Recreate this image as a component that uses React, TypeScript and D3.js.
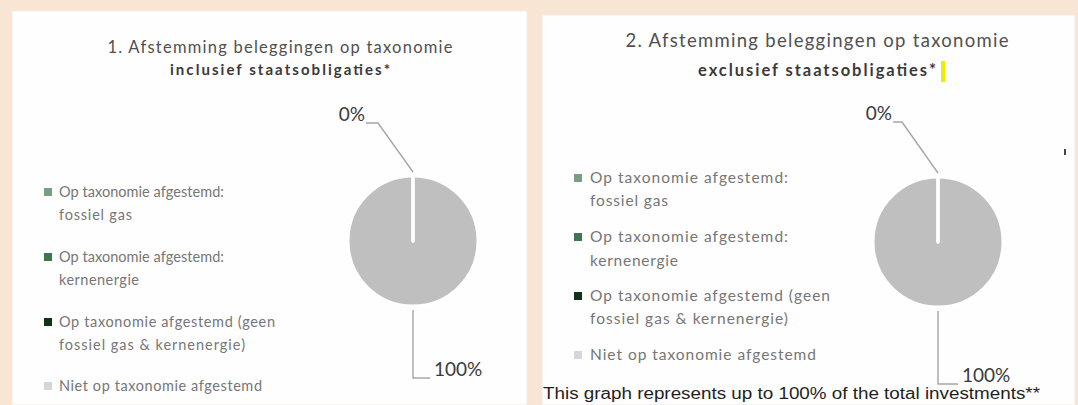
import React from "react";
import * as d3 from "d3";

// ---- data ----
const legendLines: string[][] = [
  ["Op taxonomie afgestemd:", "fossiel gas"],
  ["Op taxonomie afgestemd:", "kernenergie"],
  ["Op taxonomie afgestemd (geen", "fossiel gas & kernenergie)"],
  ["Niet op taxonomie afgestemd"],
];
const legendColors = ["#7a9c80", "#3f7650", "#0f3319", "#d6d6d6"];
const sliceColors = ["#7a9c80", "#3f7650", "#0f3319", "#bfbfbf"];
const valuesIncl = [0, 0, 0, 100];
const valuesExcl = [0, 0, 0, 100];
const titleIncl = ["1. Afstemming beleggingen op taxonomie", "inclusief staatsobligaties*"];
const titleExcl = ["2. Afstemming beleggingen op taxonomie", "exclusief staatsobligaties*"];
const footnote = "This graph represents up to 100% of the total investments**";

const W = 1078;
const H = 405;
const FONT = "Lato, 'Open Sans', sans-serif";

type Layout = {
  panel: { x: number; y: number; w: number; h: number };
  cx: number;
  cy: number;
  r: number;
  title: { x: number; y1: number; y2: number; size1: number; size2: number; w1: number; w2: number };
  legend: { sqX: number; textX: number; size: number; sq: number; ys: number[][]; widths: number[][] };
  labelSize: number;
  top: { ex: number; ey: number; endX: number };
  bottom: { ey: number; endX: number };
};

const layoutIncl: Layout = {
  panel: { x: 12, y: 11, w: 515, h: 394 },
  cx: 413,
  cy: 241,
  r: 65,
  title: { x: 280, y1: 53, y2: 75, size1: 16.5, size2: 15, w1: 345, w2: 220 },
  legend: {
    sqX: 44,
    textX: 59,
    size: 14.5,
    sq: 8,
    ys: [[197, 220], [262, 285], [327, 350], [391]],
    widths: [[165, 73], [165, 80], [216, 186], [203]],
  },
  labelSize: 19,
  top: { ex: -35, ey: -118, endX: -47 },
  bottom: { ey: 137, endX: 17 },
};

const layoutExcl: Layout = {
  panel: { x: 542, y: 15, w: 533, h: 390 },
  cx: 938,
  cy: 242,
  r: 65,
  title: { x: 817, y1: 47, y2: 76, size1: 18.5, size2: 16.5, w1: 383, w2: 238 },
  legend: {
    sqX: 574,
    textX: 590,
    size: 15.5,
    sq: 8,
    ys: [[183, 206], [242, 266], [301, 324], [360]],
    widths: [[198, 78], [198, 88], [240, 198], [226]],
  },
  labelSize: 19,
  top: { ex: -36, ey: -120, endX: -45 },
  bottom: { ey: 142, endX: 20 },
};

function PieChart({ values, title, L }: { values: number[]; title: string[]; L: Layout }) {
  const pie = d3.pie<number>().sort(null).value((d) => d);
  const arcs = pie(values);
  const arc = d3.arc<d3.PieArcDatum<number>>().innerRadius(0).outerRadius(L.r);
  const total = d3.sum(values);
  const fmt = d3.format(".0%");

  // one label per distinct position
  const seen = new Set<string>();
  const labels = arcs.filter((a) => {
    const mid = (a.startAngle + a.endAngle) / 2;
    const key = mid.toFixed(3);
    if (seen.has(key)) return false;
    seen.add(key);
    return true;
  });

  return (
    <g>
      <rect x={L.panel.x} y={L.panel.y} width={L.panel.w} height={L.panel.h} fill="#fefefe" stroke="#f1ece6" strokeWidth={1} />
      <text x={L.title.x} y={L.title.y1} textAnchor="middle" fontFamily={FONT} fontSize={L.title.size1} fill="#505050" textLength={L.title.w1} lengthAdjust="spacing">
        {title[0]}
      </text>
      <text x={L.title.x} y={L.title.y2} textAnchor="middle" fontFamily={FONT} fontSize={L.title.size2} fontWeight="bold" fill="#3a3a3a" textLength={L.title.w2} lengthAdjust="spacing">
        {title[1]}
      </text>
      {legendLines.map((lines, i) => (
        <g key={i}>
          <rect x={L.legend.sqX} y={L.legend.ys[i][0] - L.legend.sq - 1} width={L.legend.sq} height={L.legend.sq} fill={legendColors[i]} />
          {lines.map((ln, j) => (
            <text key={j} x={L.legend.textX} y={L.legend.ys[i][j]} fontFamily={FONT} fontSize={L.legend.size} fill="#767676" textLength={L.legend.widths[i][j]} lengthAdjust="spacing">
              {ln}
            </text>
          ))}
        </g>
      ))}
      <g transform={`translate(${L.cx},${L.cy})`}>
        {arcs.map((a, i) => (
          <path key={"f" + i} d={arc(a) || ""} fill={sliceColors[i]} stroke="none" />
        ))}
        {arcs.map((a, i) => (
          <path key={"s" + i} d={arc(a) || ""} fill="none" stroke="#ffffff" strokeWidth={3} strokeLinejoin="round" />
        ))}
        {labels.map((a, i) => {
          const mid = (a.startAngle + a.endAngle) / 2;
          const sx = Math.sin(mid) * (L.r + 4);
          const sy = -Math.cos(mid) * (L.r + 4);
          const isTop = Math.cos(mid) > 0;
          const txt = fmt(total ? a.value / total : 0);
          if (isTop) {
            const pts: [number, number][] = [
              [sx, sy],
              [L.top.ex, L.top.ey],
              [L.top.endX, L.top.ey],
            ];
            return (
              <g key={i}>
                <path d={d3.line()(pts) || ""} fill="none" stroke="#a6a6a6" strokeWidth={1.4} />
                <text x={L.top.endX - 1} y={L.top.ey - 2} textAnchor="end" fontFamily={FONT} fontSize={L.labelSize} fill="#3a3a3a">
                  {txt}
                </text>
              </g>
            );
          }
          const pts: [number, number][] = [
            [sx, sy],
            [sx, L.bottom.ey],
            [L.bottom.endX, L.bottom.ey],
          ];
          return (
            <g key={i}>
              <path d={d3.line()(pts) || ""} fill="none" stroke="#a6a6a6" strokeWidth={1.4} />
              <text x={L.bottom.endX + 4} y={L.bottom.ey - 2} fontFamily={FONT} fontSize={L.labelSize} fill="#3a3a3a">
                {txt}
              </text>
            </g>
          );
        })}
      </g>
    </g>
  );
}

export default function App() {
  return (
    <svg width={W} height={H} style={{ position: "fixed", left: 0, top: 0, display: "block" }}>
      <rect x={0} y={0} width={W} height={H} fill="#f9e5d3" />
      <PieChart values={valuesIncl} title={titleIncl} L={layoutIncl} />
      <PieChart values={valuesExcl} title={titleExcl} L={layoutExcl} />
      <rect x={941} y={61} width={4} height={21} fill="#f2ea00" />
      <rect x={1064} y={149} width={2} height={6} fill="#444" />
      <text x={543} y={399} fontFamily="'Liberation Sans', Arial, sans-serif" fontSize={16} fill="#1f1f1f" textLength={497} lengthAdjust="spacingAndGlyphs">
        {footnote}
      </text>
    </svg>
  );
}
